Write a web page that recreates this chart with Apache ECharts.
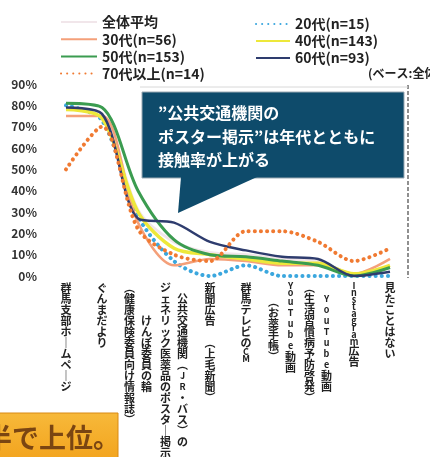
<!DOCTYPE html>
<html><head><meta charset="utf-8">
<script src="https://cdn.jsdelivr.net/npm/echarts@6/dist/echarts.min.js"></script>
<style>html,body{margin:0;padding:0;background:#fff}#c{width:430px;height:457px}</style>
</head><body><div id="c"></div>
<script>
// ---- data ----
const categories = [
  '群馬支部ホームページ',
  'ぐんまだより',
  'けんぽ委員の輪\n（健康保険委員向け情報誌）',
  '公共交通機関（JR・バス）の\nジェネリック医薬品のポスター掲示',
  '新聞広告　（上毛新聞）',
  '群馬テレビのCM',
  'YouTube動画\n（お薬手帳）',
  'YouTube動画\n（生活習慣病予防啓発）',
  'Instagram広告',
  '見たことはない'
];
const avgAll = [79, 76, 31, 16, 11, 10, 8, 7, 1, 4];
const age20  = [80, 73, 28, 7, 0, 5, 0, 0, 0, 0];
const age30  = [75, 75, 25, 5, 8, 7, 5, 5, 1, 8];
const age40  = [78, 74, 30, 13, 10, 8, 6, 6, 1, 5];
const age50  = [81, 79, 40, 17, 10, 9, 7, 5, 0, 4];
const age60  = [79, 76, 27, 25, 16, 12, 9, 8, 0, 2];
const age70  = [50, 70, 22, 10, 7, 21, 21, 16, 7, 13];
const seriesNames = ['全体平均', '20代(n=15)', '30代(n=56)', '40代(n=143)', '50代(n=153)', '60代(n=93)', '70代以上(n=14)'];
const yMin = 0, yMax = 90, yStep = 10;

// ---- vertical label helper ----
function toCells(s) {
  const out = [];
  for (const ch of s) {
    let c = ch;
    if (c === '（' || c === '(') c = '︵';
    else if (c === '）' || c === ')') c = '︶';
    else if (c === 'ー') c = '｜';
    out.push({ c, lat: /[A-Za-z0-9]/.test(ch), blank: false });
  }
  return out;
}
function vLabel(label) {
  const parts = label.split('\n').map(toCells);
  if (parts.length === 1) {
    return parts[0].map(x => x.lat ? '{l|' + x.c + '}' : '{c|' + x.c + '}').join('\n');
  }
  let A = parts[0], B = parts[1]; // A = right column, B = left column
  const pad = Math.round(Math.abs(A.length - B.length) / 2);
  const blank = { c: '　', lat: false, blank: true };
  if (A.length < B.length) A = Array(pad).fill(blank).concat(A);
  else B = Array(pad).fill(blank).concat(B);
  const n = Math.max(A.length, B.length);
  const rows = [];
  for (let i = 0; i < n; i++) {
    const a = A[i], b = B[i];
    const anyCjk = (a && !a.lat && !a.blank) || (b && !b.lat && !b.blank);
    const cell = x => {
      if (!x || x.blank) return anyCjk ? '{c|　}' : '{l| }';
      return x.lat ? '{l|' + x.c + '}' : '{c|' + x.c + '}';
    };
    rows.push(cell(b) + '{g| }' + cell(a));
  }
  return rows.join('\n');
}

const FONT = '"Noto Sans CJK JP", "Noto Sans", sans-serif';
function mk(name, data, color, width, dotted, z) {
  return {
    type: 'line', name, data, smooth: 0.3, symbol: 'none', showSymbol: false, z,
    lineStyle: { color, width, type: dotted ? [0.1, 6] : 'solid', cap: dotted ? 'round' : 'butt', join: 'round' },
    itemStyle: { color }
  };
}

const legendText = { fontSize: 14, fontWeight: 'bold', color: '#222', fontFamily: FONT };
const chart = echarts.init(document.getElementById('c'), null, { renderer: 'canvas' });
chart.setOption({
  animation: false,
  backgroundColor: '#ffffff',
  textStyle: { fontFamily: FONT },
  grid: { left: 48, right: 22, top: 84, bottom: 181, containLabel: false, outerBoundsMode: 'none' },
  legend: [
    {
      data: [seriesNames[0], seriesNames[2], seriesNames[4], seriesNames[6]],
      orient: 'vertical', left: 55, top: 10, itemWidth: 36, itemHeight: 14, itemGap: 3.2,
      itemStyle: { opacity: 0 },
      textStyle: legendText
    },
    {
      data: [seriesNames[1], seriesNames[3], seriesNames[5]],
      orient: 'vertical', left: 250, top: 12, itemWidth: 34, itemHeight: 14, itemGap: 3,
      itemStyle: { opacity: 0 },
      textStyle: legendText
    }
  ],
  xAxis: {
    type: 'category', data: categories, boundaryGap: true,
    axisLine: { show: false }, axisTick: { show: false },
    axisLabel: {
      interval: 0, margin: 6, color: '#222', formatter: vLabel,
      rich: {
        c: { fontSize: 11, fontWeight: 'bold', lineHeight: 11, width: 12, align: 'center', color: '#222', fontFamily: FONT },
        l: { fontSize: 9, fontWeight: 'bold', lineHeight: 7, width: 12, align: 'center', color: '#222', fontFamily: FONT },
        g: { fontSize: 9, width: 5, lineHeight: 7 }
      }
    }
  },
  yAxis: {
    type: 'value', min: yMin, max: yMax, interval: yStep,
    axisLine: { show: false }, axisTick: { show: false }, splitLine: { show: false },
    axisLabel: { formatter: '{value}%', margin: 11, fontSize: 12, fontWeight: 'bold', color: '#333', fontFamily: FONT }
  },
  series: [
    mk(seriesNames[0], avgAll, '#f1e6ea', 3, false, 1),
    mk(seriesNames[1], age20, '#3ba7de', 4, true, 2),
    mk(seriesNames[2], age30, '#f4a07a', 2.5, false, 3),
    mk(seriesNames[3], age40, '#ede83a', 3.5, false, 4),
    mk(seriesNames[4], age50, '#3b9c50', 3, false, 5),
    mk(seriesNames[5], age60, '#2e3c6e', 2.5, false, 6),
    mk(seriesNames[6], age70, '#f07a32', 4, true, 7)
  ],
  graphic: [
    { type: 'line', shape: { x1: 408, y1: 85, x2: 408, y2: 278 }, style: { stroke: '#555', lineWidth: 1.3, lineDash: [4, 2] }, z: 1 },
    { type: 'line', shape: { x1: 140, y1: 87, x2: 408, y2: 87 }, style: { stroke: '#d8d8d8', lineWidth: 1 }, z: 1 },
    { type: 'rect', shape: { x: 142, y: 92, width: 262, height: 86 }, style: { fill: '#0e4b6b', stroke: '#9aa9b3', lineWidth: 1 }, z: 20 },
    { type: 'polygon', shape: { points: [[181, 177], [257, 177], [178, 213]] }, style: { fill: '#0e4b6b' }, z: 20 },
    { type: 'text', x: 158, y: 113, style: { text: '”公共交通機関の', fill: '#ffffff', font: 'bold 16px ' + FONT, verticalAlign: 'middle' }, z: 21 },
    { type: 'text', x: 158, y: 137, style: { text: 'ポスター掲示”は年代とともに', fill: '#ffffff', font: 'bold 16px ' + FONT, verticalAlign: 'middle' }, z: 21 },
    { type: 'text', x: 158, y: 160, style: { text: '接触率が上がる', fill: '#ffffff', font: 'bold 16px ' + FONT, verticalAlign: 'middle' }, z: 21 },
    { type: 'text', x: 368, y: 73, style: { text: '(ベース:全体)', fill: '#222', font: 'bold 12px ' + FONT, verticalAlign: 'middle' }, z: 21 },
    { type: 'rect', shape: { x: -4, y: 413, width: 122, height: 50 },
      style: { fill: new echarts.graphic.LinearGradient(0, 0, 0, 1, [{ offset: 0, color: '#f7b93a' }, { offset: 1, color: '#f2a21c' }]), stroke: '#d98a14', lineWidth: 1 }, z: 20 },
    { type: 'text', x: -15, y: 438, style: { text: '半で上位。', fill: '#7a4512', font: 'bold 27px ' + FONT, verticalAlign: 'middle' }, z: 21 }
  ]
});
</script></body></html>
